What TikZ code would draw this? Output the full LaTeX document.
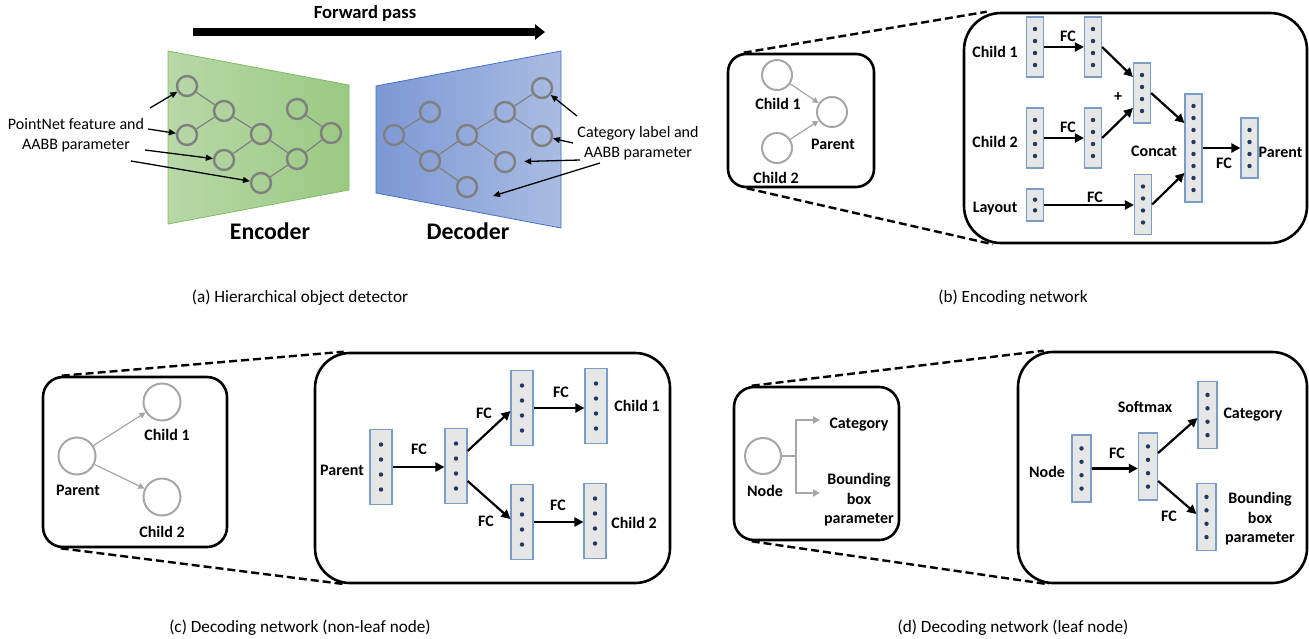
\documentclass[tikz,border=0pt]{standalone}
\usepackage{fontspec}
\setmainfont{Carlito}
\usetikzlibrary{arrows.meta,calc}

\definecolor{encleft}{RGB}{184,216,168}
\definecolor{encright}{RGB}{154,201,130}
\definecolor{encline}{RGB}{128,189,98}
\definecolor{decleft}{RGB}{125,152,212}
\definecolor{decright}{RGB}{170,188,227}
\definecolor{decline}{RGB}{68,114,196}
\definecolor{treegray}{RGB}{127,127,127}
\definecolor{ringgray}{RGB}{166,166,166}
\definecolor{vecfill}{RGB}{231,230,230}
\definecolor{vecline}{RGB}{124,156,200}
\definecolor{vecdot}{RGB}{31,56,100}

\tikzset{
  lbl/.style={font=\bfseries\fontsize{8}{10}\selectfont, inner sep=0pt, text height=5.1pt, text depth=0pt},
  multilbl/.style={font=\bfseries\fontsize{8}{9.75}\selectfont, inner sep=0pt, align=center},
  note/.style={font=\fontsize{8}{10}\selectfont, inner sep=0pt, align=center},
  capt/.style={font=\fontsize{8.6}{10}\selectfont, inner sep=0pt, text height=5.5pt, text depth=0pt},
  biglbl/.style={font=\bfseries\fontsize{11.9}{14}\selectfont, inner sep=0pt, text height=7.6pt, text depth=0pt},
  treenode/.style={circle, draw=treegray, line width=1.2pt, minimum size=10pt, inner sep=0pt},
  treeedge/.style={treegray, line width=0.6pt},
  notearrow/.style={line width=0.65pt, -{Triangle[length=3.5pt,width=3pt]}},
  ringnode/.style={circle, draw=ringgray, line width=1pt, inner sep=0pt},
  ringarrow/.style={ringgray, line width=0.6pt, -{Triangle[length=3pt,width=3pt]}},
  forkline/.style={ringgray, line width=1pt},
  forkarrow/.style={forkline, -{Triangle[length=3.5pt,width=3.5pt]}},
  roundbox/.style={draw, line width=1.3pt, rounded corners=#1, inner sep=0pt},
  zoomline/.style={line width=1.2pt, dash pattern=on 4pt off 2pt},
  featvec/.style={draw=vecline, fill=vecfill, line width=0.6pt, inner sep=0pt,
    path picture={\foreach \k in {1,...,#1}
      \fill[vecdot] ($(path picture bounding box.north)!{\k/(#1+1)}!(path picture bounding box.south)$) circle (1.1pt);}},
  featvec/.default=4,
  bvec/.style={featvec=#1, minimum width=8.5pt, minimum height=30pt},
  bvec/.default=4,
  cvec/.style={featvec=4, minimum width=11pt, minimum height=37.5pt},
  dvec/.style={featvec=4, minimum width=9.5pt, minimum height=33.5pt},
  fcarrow/.style={line width=1.1pt, -{Triangle[length=4.5pt,width=4.5pt]}},
}

\begin{document}
\begin{tikzpicture}[x=0.5pt, y=-0.5pt]
\useasboundingbox (0,0) rectangle (1309,638);

% (a) hierarchical object detector
\coordinate (fwdstart) at (193,32);
\coordinate (fwdend) at (545,32);
\draw[line width=4.2pt, -{Triangle[length=5pt,width=7.5pt]}] (fwdstart) -- (fwdend);
\node[font=\bfseries\fontsize{9.3}{11}\selectfont, inner sep=0pt, text height=6pt, text depth=0pt] (fwdlbl) at (365,12) {Forward pass};

\draw[encline, left color=encleft, right color=encright] (168,51) -- (349,85) -- (349,190) -- (168,224) -- cycle;
\draw[decline, left color=decleft, right color=decright] (376,86) -- (561,51) -- (561,228) -- (376,193) -- cycle;

\foreach \n/\x/\y in {1/187/86, 2/224/111, 3/187/135, 4/261/134, 5/297/109, 6/331/133, 7/224/160, 8/297/159, 9/261/183}
  \node[treenode] (enc\n) at (\x,\y) {};
\foreach \a/\b in {1/2, 2/3, 2/4, 4/7, 4/8, 5/6, 6/8, 8/9}
  \draw[treeedge] (enc\a) -- (enc\b);

\foreach \n/\x/\y in {1/430/112, 2/394/135, 3/430/161, 4/467/135, 5/505/112, 6/542/88, 7/542/136, 8/505/162, 9/467/187}
  \node[treenode] (dec\n) at (\x,\y) {};
\foreach \a/\b in {2/1, 2/3, 3/4, 4/5, 5/6, 5/7, 4/8, 3/9}
  \draw[treeedge] (dec\a) -- (dec\b);

\node[note] (pnlbl) at (76,135.5) {PointNet feature and\\AABB parameter};
\coordinate (pn1) at (150,108);
\coordinate (pn2) at (148,129);
\coordinate (pn3) at (145,150);
\coordinate (pn4) at (131,161);
\draw[notearrow] (pn1) -- (enc1);
\draw[notearrow] (pn2) -- (enc3);
\draw[notearrow] (pn3) -- (enc7);
\draw[notearrow] (pn4) -- (enc9);

\node[note] (catlbl) at (638,143.5) {Category label and\\AABB parameter};
\coordinate (cl1) at (577,116);
\coordinate (cl2) at (573,143);
\coordinate (cl3) at (580,160);
\coordinate (cl4) at (600,163);
\coordinate (cl4end) at (493,196);
\draw[notearrow] (cl1) -- (dec6);
\draw[notearrow] (cl2) -- (dec7);
\draw[notearrow, shorten >=4pt] (cl3) -- (dec8);
\draw[notearrow] (cl4) -- (cl4end);

\node[biglbl] (enclbl) at (270,232) {Encoder};
\node[biglbl] (declbl) at (468,232) {Decoder};
\node[capt] (capa) at (300,297) {(a) Hierarchical object detector};

% (b) encoding network
\node[roundbox=9pt, minimum width=73pt, minimum height=66.5pt] (bsmall) at (801,120.5) {};
\node[ringnode, minimum size=15pt] (bc1) at (777,75) {};
\node[ringnode, minimum size=15pt] (bpar) at (832,112) {};
\node[ringnode, minimum size=15pt] (bc2) at (777,148) {};
\draw[ringarrow] (bc1) -- (bpar);
\draw[ringarrow] (bc2) -- (bpar);
\node[lbl] (bc1lbl) at (778,104) {Child 1};
\node[lbl] (bparlbl) at (833,144) {Parent};
\node[lbl] (bc2lbl) at (776,178) {Child 2};

\node[roundbox=18.5pt, minimum width=171.5pt, minimum height=115pt] (bbig) at (1135.5,128) {};
\draw[zoomline] ([xshift=8.5pt]bsmall.north west) -- ([xshift=12pt]bbig.north west);
\draw[zoomline] ([xshift=10pt]bsmall.south west) -- ([xshift=15pt]bbig.south west);

\node[bvec] (bc1in) at (1035,47) {};
\node[bvec] (bc1fc) at (1093,47) {};
\node[bvec] (bc2in) at (1035,138) {};
\node[bvec] (bc2fc) at (1093,138) {};
\node[bvec] (bsum) at (1142,93) {};
\node[bvec=2, minimum height=16pt] (blayin) at (1035,205) {};
\node[bvec] (blayfc) at (1143,204.5) {};
\node[bvec=8, minimum height=54pt] (bcat) at (1193.5,148) {};
\node[bvec] (bout) at (1249.5,148) {};

\draw[fcarrow] (bc1in.east) -- (bc1fc.west);
\draw[fcarrow] (bc2in.east) -- (bc2fc.west);
\draw[fcarrow] (bc1fc.east) -- ([yshift=8pt]bsum.west);
\draw[fcarrow] (bc2fc.east) -- ([yshift=-7.5pt]bsum.west);
\draw[fcarrow] (bsum.east) -- ([yshift=12.5pt]bcat.west);
\draw[fcarrow] (blayin.east) -- (blayin.east -| blayfc.west);
\draw[fcarrow] (blayfc.east) -- ([yshift=-12.5pt]bcat.west);
\draw[fcarrow] (bcat.east) -- (bout.west);

\node[lbl] (bc1inlbl) at (995,52) {Child 1};
\node[lbl] (bc2inlbl) at (995,142) {Child 2};
\node[lbl] (blaylbl) at (995,207) {Layout};
\node[lbl] (bfc1) at (1068,36) {FC};
\node[lbl] (bfc2) at (1068,127) {FC};
\node[lbl] (bfc3) at (1095,197.5) {FC};
\node[lbl] (bfc4) at (1224,163) {FC};
\node[lbl] (bplus) at (1118,96) {+};
\node[lbl] (bcatlbl) at (1154,151) {Concat};
\node[lbl] (boutlbl) at (1280.5,152) {Parent};
\node[capt] (capb) at (1013,297) {(b) Encoding network};

% (c) decoding network, non-leaf node
\node[roundbox=10pt, minimum width=92pt, minimum height=85pt] (csmall) at (135,462) {};
\node[ringnode, minimum size=18.5pt] (cparc) at (77,456) {};
\node[ringnode, minimum size=18.5pt] (cch1c) at (162,402) {};
\node[ringnode, minimum size=18.5pt] (cch2c) at (162,497) {};
\draw[ringarrow] (cparc) -- (cch1c);
\draw[ringarrow] (cparc) -- (cch2c);
\node[lbl] (cparclbl) at (78,490) {Parent};
\node[lbl] (cch1clbl) at (167,435) {Child 1};
\node[lbl] (cch2clbl) at (162,532) {Child 2};

\node[roundbox=17.5pt, minimum width=177.5pt, minimum height=115pt] (cbig) at (492.5,468) {};
\draw[zoomline] ([xshift=10pt]csmall.north west) -- ([xshift=15pt]cbig.north west);
\draw[zoomline] ([xshift=9.5pt]csmall.south west) -- ([xshift=16pt]cbig.south west);

\node[cvec] (cparv) at (381,467) {};
\node[cvec] (cfcv) at (456,466) {};
\node[cvec] (cupv) at (522,408) {};
\node[cvec] (clov) at (522,522) {};
\node[cvec] (cch1v) at (596,406) {};
\node[cvec] (cch2v) at (595,521) {};

\draw[fcarrow] (cparv.east) -- (cparv.east -| cfcv.west);
\draw[fcarrow] ([yshift=7.5pt]cfcv.east) -- ([yshift=-1.5pt]cupv.west);
\draw[fcarrow] ([yshift=-7.5pt]cfcv.east) -- ([yshift=1.5pt]clov.west);
\draw[fcarrow] (cupv.east) -- (cupv.east -| cch1v.west);
\draw[fcarrow] (clov.east) -- (clov.east -| cch2v.west);

\node[lbl] (cparvlbl) at (342,470) {Parent};
\node[lbl] (cfc1) at (419,449) {FC};
\node[lbl] (cfc2) at (484,413) {FC};
\node[lbl] (cfc3) at (561,392) {FC};
\node[lbl] (cfc4) at (486,521) {FC};
\node[lbl] (cfc5) at (558,505) {FC};
\node[lbl] (cch1vlbl) at (637,406) {Child 1};
\node[lbl] (cch2vlbl) at (634,523) {Child 2};
\node[capt] (capc) at (300,627) {(c) Decoding network (non-leaf node)};

% (d) decoding network, leaf node
\node[roundbox=10pt, minimum width=82.5pt, minimum height=76.5pt] (dsmall) at (816.5,463.5) {};
\node[ringnode, minimum size=18pt] (dnodec) at (763,456) {};
\node[lbl] (dnodeclbl) at (765,491) {Node};
\coordinate (dfork) at (796,456);
\coordinate (dcatin) at (820,420);
\coordinate (dbbin) at (820,493);
\draw[forkline] (dnodec.east) -- (dfork);
\draw[forkarrow] (dfork) |- (dcatin);
\draw[forkarrow] (dfork) |- (dbbin);
\node[lbl] (dcatclbl) at (859,423) {Category};
\node[multilbl] (dbbclbl) at (859,500) {Bounding\\box\\parameter};

\node[roundbox=17.5pt, minimum width=144.5pt, minimum height=115.5pt] (dbig) at (1162.5,467.5) {};
\draw[zoomline] ([xshift=9.5pt]dsmall.north west) -- ([xshift=13.5pt]dbig.north west);
\draw[zoomline] ([xshift=9.5pt]dsmall.south west) -- ([xshift=16pt]dbig.south west);

\node[dvec] (dnodev) at (1081.5,468.5) {};
\node[dvec] (dfcv) at (1148,466.5) {};
\node[dvec] (dcatv) at (1207.5,415) {};
\node[dvec] (dbbv) at (1206.5,517) {};

\draw[fcarrow] (dnodev.east) -- (dnodev.east -| dfcv.west);
\draw[fcarrow] ([yshift=6.75pt]dfcv.east) -- ([yshift=-1.5pt]dcatv.west);
\draw[fcarrow] ([yshift=-7.25pt]dfcv.east) -- ([yshift=1.5pt]dbbv.west);

\node[lbl] (dnodevlbl) at (1047,472) {Node};
\node[lbl] (dfc1) at (1117,453) {FC};
\node[lbl] (dsoft) at (1145,407) {Softmax};
\node[lbl] (dfc2) at (1169,516) {FC};
\node[lbl] (dcatvlbl) at (1253,413) {Category};
\node[multilbl] (dbbvlbl) at (1260,519) {Bounding\\box\\parameter};
\node[capt] (capd) at (1013,627) {(d) Decoding network (leaf node)};
\end{tikzpicture}
\end{document}
